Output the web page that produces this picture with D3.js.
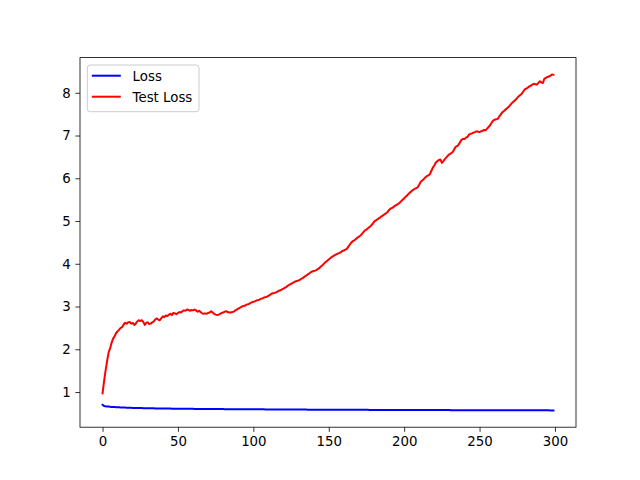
<!DOCTYPE html>
<html>
<head>
<meta charset="utf-8">
<script src="https://cdn.jsdelivr.net/npm/d3@7"></script>
<style>
  html, body { margin: 0; padding: 0; background: #fff; }
  svg text { font-family: "DejaVu Sans", sans-serif; }
</style>
</head>
<body>
<svg id="chart" width="640" height="480"></svg>
<script>
'use strict';

// values, one per epoch (0..299)
var testLoss = [
  0.97, 1.25, 1.50, 1.72, 1.92, 2.02, 2.15, 2.25, 2.30, 2.38,
  2.42, 2.46, 2.50, 2.52, 2.58, 2.62, 2.60, 2.63, 2.64, 2.60,
  2.62, 2.57, 2.60, 2.65, 2.68, 2.66, 2.68, 2.64, 2.57, 2.62,
  2.63, 2.59, 2.60, 2.63, 2.65, 2.70, 2.72, 2.69, 2.68, 2.73,
  2.77, 2.75, 2.79, 2.78, 2.81, 2.83, 2.80, 2.85, 2.84, 2.82,
  2.85, 2.87, 2.86, 2.89, 2.91, 2.90, 2.93, 2.92, 2.90, 2.92,
  2.91, 2.93, 2.91, 2.88, 2.90, 2.87, 2.84, 2.83, 2.84, 2.83,
  2.85, 2.86, 2.89, 2.86, 2.83, 2.81, 2.80, 2.81, 2.83, 2.85,
  2.86, 2.88, 2.89, 2.87, 2.86, 2.86, 2.87, 2.88, 2.91, 2.93,
  2.95, 2.97, 2.99, 3.01, 3.02, 3.03, 3.05, 3.06, 3.08, 3.10,
  3.11, 3.12, 3.14, 3.15, 3.16, 3.18, 3.19, 3.21, 3.22, 3.23,
  3.25, 3.27, 3.30, 3.31, 3.32, 3.33, 3.35, 3.37, 3.38, 3.40,
  3.42, 3.44, 3.46, 3.49, 3.51, 3.53, 3.55, 3.57, 3.59, 3.60,
  3.61, 3.63, 3.65, 3.67, 3.70, 3.72, 3.75, 3.77, 3.80, 3.82,
  3.83, 3.84, 3.86, 3.88, 3.91, 3.94, 3.97, 4.01, 4.04, 4.07,
  4.10, 4.13, 4.16, 4.18, 4.20, 4.22, 4.24, 4.25, 4.27, 4.30,
  4.31, 4.33, 4.35, 4.40, 4.45, 4.50, 4.53, 4.55, 4.58, 4.61,
  4.63, 4.66, 4.70, 4.74, 4.78, 4.80, 4.83, 4.86, 4.89, 4.93,
  4.98, 5.01, 5.03, 5.06, 5.08, 5.11, 5.13, 5.16, 5.18, 5.21,
  5.26, 5.29, 5.31, 5.33, 5.36, 5.38, 5.40, 5.43, 5.46, 5.50,
  5.53, 5.57, 5.60, 5.64, 5.67, 5.70, 5.73, 5.75, 5.77, 5.79,
  5.85, 5.92, 5.95, 5.98, 6.02, 6.05, 6.07, 6.09, 6.17, 6.25,
  6.30, 6.37, 6.40, 6.43, 6.44, 6.36, 6.40, 6.45, 6.49, 6.53,
  6.56, 6.58, 6.61, 6.66, 6.73, 6.75, 6.78, 6.84, 6.90, 6.92,
  6.92, 6.95, 6.97, 7.02, 7.04, 7.05, 7.07, 7.08, 7.10, 7.09,
  7.08, 7.10, 7.11, 7.13, 7.12, 7.16, 7.20, 7.24, 7.30, 7.35,
  7.37, 7.38, 7.39, 7.44, 7.49, 7.54, 7.57, 7.60, 7.63, 7.66,
  7.70, 7.74, 7.78, 7.81, 7.84, 7.88, 7.92, 7.95, 7.98, 8.03,
  8.08, 8.10, 8.12, 8.15, 8.17, 8.19, 8.21, 8.20, 8.19, 8.23,
  8.27, 8.24, 8.23, 8.33, 8.35, 8.37, 8.38, 8.40, 8.43, 8.42
];

var trainLoss = [
  0.700, 0.675, 0.668, 0.663, 0.659, 0.655, 0.652, 0.649, 0.647, 0.645,
  0.643, 0.641, 0.639, 0.638, 0.636, 0.635, 0.634, 0.632, 0.631, 0.630,
  0.629, 0.628, 0.627, 0.626, 0.625, 0.624, 0.624, 0.623, 0.622, 0.621,
  0.620, 0.620, 0.619, 0.618, 0.618, 0.617, 0.617, 0.616, 0.615, 0.615,
  0.614, 0.614, 0.613, 0.613, 0.612, 0.612, 0.611, 0.611, 0.610, 0.610,
  0.609, 0.609, 0.609, 0.608, 0.608, 0.607, 0.607, 0.607, 0.606, 0.606,
  0.606, 0.605, 0.605, 0.605, 0.604, 0.604, 0.604, 0.603, 0.603, 0.603,
  0.602, 0.602, 0.602, 0.602, 0.601, 0.601, 0.601, 0.600, 0.600, 0.600,
  0.600, 0.599, 0.599, 0.599, 0.599, 0.598, 0.598, 0.598, 0.598, 0.597,
  0.597, 0.597, 0.597, 0.597, 0.596, 0.596, 0.596, 0.596, 0.595, 0.595,
  0.595, 0.595, 0.595, 0.594, 0.594, 0.594, 0.594, 0.594, 0.593, 0.593,
  0.593, 0.593, 0.593, 0.592, 0.592, 0.592, 0.592, 0.592, 0.592, 0.591,
  0.591, 0.591, 0.591, 0.591, 0.590, 0.590, 0.590, 0.590, 0.590, 0.590,
  0.589, 0.589, 0.589, 0.589, 0.589, 0.589, 0.588, 0.588, 0.588, 0.588,
  0.588, 0.588, 0.587, 0.587, 0.587, 0.587, 0.587, 0.587, 0.586, 0.586,
  0.586, 0.586, 0.586, 0.586, 0.586, 0.585, 0.585, 0.585, 0.585, 0.585,
  0.585, 0.585, 0.584, 0.584, 0.584, 0.584, 0.584, 0.584, 0.584, 0.583,
  0.583, 0.583, 0.583, 0.583, 0.583, 0.583, 0.583, 0.582, 0.582, 0.582,
  0.582, 0.582, 0.582, 0.582, 0.582, 0.581, 0.581, 0.581, 0.581, 0.581,
  0.581, 0.581, 0.581, 0.581, 0.580, 0.580, 0.580, 0.580, 0.580, 0.580,
  0.580, 0.580, 0.580, 0.579, 0.579, 0.579, 0.579, 0.579, 0.579, 0.579,
  0.579, 0.579, 0.578, 0.578, 0.578, 0.578, 0.578, 0.578, 0.578, 0.578,
  0.578, 0.577, 0.577, 0.577, 0.577, 0.577, 0.577, 0.577, 0.577, 0.577,
  0.577, 0.576, 0.576, 0.576, 0.576, 0.576, 0.576, 0.576, 0.576, 0.576,
  0.576, 0.576, 0.575, 0.575, 0.575, 0.575, 0.575, 0.575, 0.575, 0.575,
  0.575, 0.575, 0.575, 0.574, 0.574, 0.574, 0.574, 0.574, 0.574, 0.574,
  0.574, 0.574, 0.574, 0.574, 0.573, 0.573, 0.573, 0.573, 0.573, 0.573,
  0.573, 0.573, 0.573, 0.573, 0.573, 0.572, 0.572, 0.572, 0.572, 0.572,
  0.572, 0.572, 0.572, 0.572, 0.572, 0.572, 0.571, 0.571, 0.571, 0.571,
  0.571, 0.571, 0.571, 0.571, 0.571, 0.571, 0.571, 0.570, 0.570, 0.570
];

var xTicks = [0, 50, 100, 150, 200, 250, 300];
var yTicks = [1, 2, 3, 4, 5, 6, 7, 8];
var seriesNames = ['Loss', 'Test Loss'];
var seriesColors = ['#0000ff', '#ff0000'];

(() => {
  var W = 640, H = 480;
  var left = 80, right = 576, top = 57.6, bottom = 427.2;

  var svg = d3.select('#chart');
  svg.append('rect').attr('width', W).attr('height', H).attr('fill', '#fff');

  // matplotlib-ish 5% margins around the data
  var n = testLoss.length;
  var xmin = 0, xmax = n - 1;
  var xpad = (xmax - xmin) * 0.05;
  var all = trainLoss.concat(testLoss);
  var ymin = d3.min(all), ymax = d3.max(all);
  var ypad = (ymax - ymin) * 0.05;

  var x = d3.scaleLinear().domain([xmin - xpad, xmax + xpad]).range([left, right]);
  var y = d3.scaleLinear().domain([ymin - ypad, ymax + ypad]).range([bottom, top]);

  var series = [trainLoss, testLoss];

  var line = d3.line()
    .x((d, i) => x(i))
    .y(d => y(d));

  var plot = svg.append('g');
  plot.selectAll('path.series')
    .data(series)
    .enter().append('path')
      .attr('class', 'series')
      .attr('d', d => line(d))
      .attr('fill', 'none')
      .attr('stroke', (d, i) => seriesColors[i])
      .attr('stroke-width', 2)
      .attr('stroke-linejoin', 'round')
      .attr('stroke-linecap', 'square');

  // spines
  svg.append('rect')
    .attr('x', left).attr('y', top)
    .attr('width', right - left).attr('height', bottom - top)
    .attr('fill', 'none').attr('stroke', '#000').attr('stroke-width', 0.8);

  var xAxis = svg.append('g')
    .attr('transform', `translate(0,${bottom})`)
    .call(d3.axisBottom(x).tickValues(xTicks).tickSize(4.67).tickPadding(4.67).tickSizeOuter(0));
  var yAxis = svg.append('g')
    .attr('transform', `translate(${left},0)`)
    .call(d3.axisLeft(y).tickValues(yTicks).tickSize(4.67).tickPadding(4.67).tickSizeOuter(0));

  [xAxis, yAxis].forEach(a => {
    a.select('.domain').remove();
    a.selectAll('.tick line').attr('stroke', '#000').attr('stroke-width', 0.8);
    a.selectAll('.tick text')
      .attr('fill', '#000')
      .style('font-family', '"DejaVu Sans", sans-serif')
      .style('font-size', '13.33px');
  });

  // legend, upper left
  var lg = svg.append('g').attr('transform', `translate(${left + 7.3},${top + 7.4})`);
  lg.append('rect')
    .attr('width', 111.7).attr('height', 46.7)
    .attr('rx', 3).attr('ry', 3)
    .attr('fill', '#fff').attr('fill-opacity', 0.8)
    .attr('stroke', '#cccccc').attr('stroke-width', 1);

  var items = lg.selectAll('g.item')
    .data(seriesNames)
    .enter().append('g')
      .attr('class', 'item')
      .attr('transform', (d, i) => `translate(0,${10.7 + i * 21})`);
  items.append('line')
    .attr('x1', 4.5).attr('x2', 33.5)
    .attr('y1', 0).attr('y2', 0)
    .attr('stroke', (d, i) => seriesColors[i])
    .attr('stroke-width', 2);
  items.append('text')
    .attr('x', 45.3).attr('y', 0).attr('dy', '0.36em')
    .attr('fill', '#000')
    .style('font-size', '13.33px')
    .text(d => d);
})();
</script>
</body>
</html>
